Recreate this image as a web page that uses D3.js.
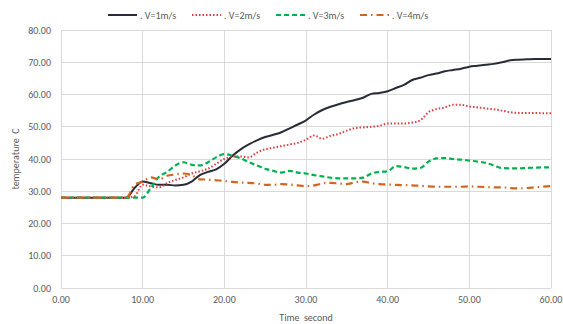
<!DOCTYPE html>
<html><head><meta charset="utf-8">
<script src="https://cdn.jsdelivr.net/npm/d3@7/dist/d3.min.js"></script>
<style>body{margin:0;background:#fff;}svg{display:block;font-family:Calibri,Carlito,"Liberation Sans",Arial,sans-serif;}</style>
</head><body>
<svg id="c" width="563" height="324"></svg>
<script>
const time = d3.range(0, 61);
const xTicks = [0, 10, 20, 30, 40, 50, 60];
const yTicks = [0, 10, 20, 30, 40, 50, 60, 70, 80];
const seriesNames = [". V=1m/s", ". V=2m/s", ". V=3m/s", ". V=4m/s"];
const v1 = [28,28,28,28,28,28,28,28,28,31,33,32.5,32,32,31.8,32,33,35,36,36.8,38.5,41,43,44.5,45.8,46.8,47.5,48.3,49.5,50.7,52,53.8,55.2,56.2,57,57.7,58.3,59,60.2,60.5,61,62,63,64.5,65.2,66,66.5,67.2,67.6,68,68.6,68.9,69.2,69.5,70,70.6,70.8,70.9,71,71,71];
const v2 = [28,28,28,28,28,28,28,28,28,28.5,32,31.5,31.2,32.5,33.5,34.3,35.5,36.2,37,38.5,40,40.7,40.8,40.5,42,43,43.5,44,44.5,45,46,47.3,46.3,47.2,47.8,48.8,49.6,49.8,50,50.3,51,51,51,51.3,52,54.5,55.5,56,56.8,56.8,56.3,56,55.7,55.4,55,54.5,54.3,54.3,54.3,54.2,54.2];
const v3 = [28,28,28,28,28,28,28,28,28,28,28,31,34.5,36,38,39,38.2,38,39,40.5,41.5,41,40.2,39,38,37,36.3,35.8,36.3,35.8,35.5,35,34.6,34.2,34,34,34,34.2,35.5,36,36.2,37.8,37.5,37,37.2,39.2,40.2,40.3,40,39.8,39.5,39.2,38.8,38,37.2,37.1,37.1,37.2,37.3,37.4,37.4];
const v4 = [28,28,28,28,28,28,28,28,28,32,33,34.3,33.7,34.8,35.2,35.5,35,33.7,33.6,33.4,33.2,32.9,32.7,32.6,32.4,32,32,32.2,32.1,31.8,31.6,31.8,32.4,32.6,32.4,32.2,32.8,33,32.5,32.2,32.1,32,31.9,31.8,31.7,31.5,31.4,31.4,31.4,31.4,31.5,31.4,31.3,31.2,31.2,31,30.9,31,31.2,31.4,31.6];

const styles = [
  {color:"#272c38", dash:null, w:2},
  {color:"#e0393e", dash:"1.5,2", w:2},
  {color:"#00b050", dash:"5,3", w:2.2},
  {color:"#d0661e", dash:"7,4,1.5,4", w:2.2}
];
const data = [v1, v2, v3, v4];

const svg = d3.select("#c");
const L = 61, R = 551, T = 30, B = 288;
const x = d3.scaleLinear().domain([0, 60]).range([L, R]);
const y = d3.scaleLinear().domain([0, 80]).range([B, T]);

// grid
svg.append("g").selectAll("line").data(yTicks).join("line")
  .attr("x1", L).attr("x2", R).attr("y1", d => y(d)).attr("y2", d => y(d))
  .attr("stroke", "#d9d9d9").attr("stroke-width", 1).attr("shape-rendering","crispEdges");
svg.append("g").selectAll("line").data(xTicks).join("line")
  .attr("x1", d => x(d)).attr("x2", d => x(d)).attr("y1", T).attr("y2", B)
  .attr("stroke", "#d9d9d9").attr("stroke-width", 1).attr("shape-rendering","crispEdges");

// tick labels
svg.append("g").selectAll("text").data(yTicks).join("text")
  .attr("x", 51).attr("y", d => y(d)).attr("dy", "0.35em")
  .attr("text-anchor", "end").attr("font-size", 10).attr("fill", "#595959")
  .text(d => d3.format(".2f")(d));
svg.append("g").selectAll("text").data(xTicks).join("text")
  .attr("x", d => x(d)).attr("y", 303)
  .attr("text-anchor", "middle").attr("font-size", 10).attr("fill", "#595959")
  .text(d => d3.format(".2f")(d));

// axis titles
svg.append("text").attr("x", (L + R) / 2).attr("y", 321).attr("text-anchor", "middle")
  .attr("font-size", 10).attr("fill", "#595959").attr("xml:space","preserve").text("Time  second");
svg.append("text").attr("transform", `translate(19,${(T + B) / 2}) rotate(-90)`)
  .attr("text-anchor", "middle").attr("font-size", 10).attr("fill", "#595959")
  .attr("xml:space","preserve").text("temperature  C");

// lines
const line = d3.line().x((d, i) => x(time[i])).y(d => y(d)).curve(d3.curveMonotoneX);
data.forEach((s, k) => {
  svg.append("path").datum(s).attr("d", line).attr("fill", "none")
    .attr("stroke", styles[k].color).attr("stroke-width", styles[k].w)
    .attr("stroke-dasharray", styles[k].dash).attr("stroke-linejoin","round");
});

// legend
const legX = [108, 192, 276, 360];
seriesNames.forEach((n, k) => {
  const g = svg.append("g").attr("transform", `translate(${legX[k]},15)`);
  g.append("line").attr("x1", 0).attr("x2", 29).attr("y1", 0).attr("y2", 0)
    .attr("stroke", styles[k].color).attr("stroke-width", styles[k].w)
    .attr("stroke-dasharray", styles[k].dash);
  g.append("text").attr("x", 32).attr("y", 0).attr("dy", "0.35em")
    .attr("font-size", 10).attr("fill", "#595959").text(n);
});
</script>
</body></html>
